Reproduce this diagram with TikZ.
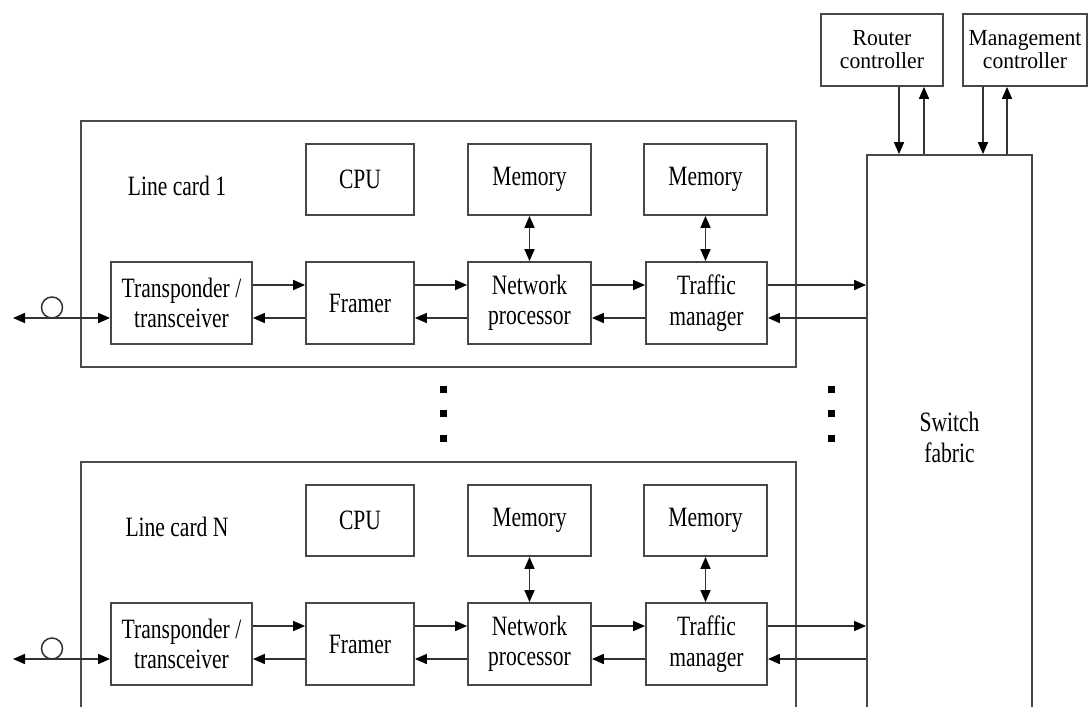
\documentclass[tikz,border=0pt]{standalone}
\usepackage{fontspec}
\setmainfont{Liberation Serif}[FakeStretch=0.77]
\newfontfamily\ctlfont{Liberation Serif}[FakeStretch=0.94]
\usetikzlibrary{arrows.meta,calc}

\tikzset{
  blk/.style={draw=black!72, line width=1.8pt, align=center, inner sep=0pt,
              text=black, font=\fontsize{28}{30.5}\selectfont},
  ctl/.style={blk, font=\ctlfont\fontsize{23}{23}\selectfont},
  cardbox/.style={draw=black!70, line width=1.8pt, inner sep=0pt},
  cardlabel/.style={text=black, font=\fontsize{28}{30.5}\selectfont, inner sep=0pt},
  conn/.style={draw=black!80, line width=1.6pt, -{Triangle[length=12pt,width=10pt,color=black]}},
  both/.style={draw=black!80, line width=1.6pt, {Triangle[length=12pt,width=10pt,color=black]}-{Triangle[length=12pt,width=10pt,color=black]}},
  ring/.style={circle, draw=black!80, line width=1.5pt, minimum size=21pt, inner sep=0pt},
}

% One line card: #1 name prefix, #2 vertical offset, #3 label,
% #4 centre of the card frame, #5 height of the card frame
\newcommand\drawcard[5]{%
  \node[cardbox, minimum width=715pt, minimum height=#5pt] (#1card) at (438.4,{#4}) {};
  \node[cardlabel] (#1lab) at (177,{186+#2}) {#3};
  \node[blk, minimum width=108pt, minimum height=71pt] (#1cpu) at (360,{179.5+#2}) {CPU};
  \node[blk, minimum width=123pt, minimum height=71pt] (#1mema) at (529.5,{179.5+#2}) {Memory};
  \node[blk, minimum width=123pt, minimum height=71pt] (#1memb) at (705.5,{179.5+#2}) {Memory};
  \node[blk, minimum width=141pt, minimum height=82pt] (#1tr) at (181.5,{303+#2}) {Transponder /\\transceiver};
  \node[blk, minimum width=108pt, minimum height=82pt] (#1fr) at (360,{303+#2}) {Framer};
  \node[blk, minimum width=123pt, minimum height=82pt] (#1np) at (529.5,{303+#2}) {Network\\processor};
  \node[blk, minimum width=121pt, minimum height=82pt] (#1tm) at (706.5,{303+#2}) {Traffic\\manager};
  % memories
  \draw[both] (#1mema.south) -- (#1mema.south |- #1np.north);
  \draw[both] (#1memb.south) -- (#1memb.south |- #1tm.north);
  % ingress path (upper) and egress path (lower)
  \draw[conn] ([yshift=18pt]#1tr.east) -- ([yshift=18pt]#1fr.west);
  \draw[conn] ([yshift=18pt]#1fr.east) -- ([yshift=18pt]#1np.west);
  \draw[conn] ([yshift=18pt]#1np.east) -- ([yshift=18pt]#1tm.west);
  \draw[conn] ([yshift=18pt]#1tm.east) -- ([yshift=18pt]#1tm.east -| sf.west);
  \draw[conn] ([yshift=-15pt]#1tm.east -| sf.west) -- ([yshift=-15pt]#1tm.east);
  \draw[conn] ([yshift=-15pt]#1tm.west) -- ([yshift=-15pt]#1np.east);
  \draw[conn] ([yshift=-15pt]#1np.west) -- ([yshift=-15pt]#1fr.east);
  \draw[conn] ([yshift=-15pt]#1fr.west) -- ([yshift=-15pt]#1tr.east);
  % optical port
  \coordinate (#1port) at (13,{318+#2});
  \node[ring] (#1ring) at (52,{307.5+#2}) {};
  \draw[both] (#1port) -- ([yshift=-15pt]#1tr.west);
}

\begin{document}
\begin{tikzpicture}[x=1pt, y=-1pt]
  \useasboundingbox (0,0) rectangle (1088,707);
  \fill[white] (0,0) rectangle (1088,707);
  \clip (0,0) rectangle (1088,707);

  % switch fabric and controllers
  \node[blk, minimum width=165pt, minimum height=565pt] (sf) at (949.5,437.5) {Switch\\fabric};
  \node[ctl, minimum width=122pt, minimum height=72pt] (rc) at (882,50) {Router\\controller};
  \node[ctl, minimum width=124pt, minimum height=72pt] (mc) at (1025,50) {Management\\controller};
  \draw[conn] ([xshift=17pt]rc.south) -- ([xshift=17pt]rc.south |- sf.north);
  \draw[conn] ([xshift=42pt]rc.south |- sf.north) -- ([xshift=42pt]rc.south);
  \draw[conn] ([xshift=-42pt]mc.south) -- ([xshift=-42pt]mc.south |- sf.north);
  \draw[conn] ([xshift=-18pt]mc.south |- sf.north) -- ([xshift=-18pt]mc.south);

  % line cards
  \drawcard{a}{0}{Line card 1}{244}{246}
  \drawcard{n}{341}{Line card N}{601}{278}

  % ellipsis between the cards
  \foreach \yy in {389,413,438} {
    \fill[black] (443,\yy) +(-3.5,-3.5) rectangle +(3.5,3.5);
    \fill[black] (831,\yy) +(-3.5,-3.5) rectangle +(3.5,3.5);
  }
\end{tikzpicture}
\end{document}
